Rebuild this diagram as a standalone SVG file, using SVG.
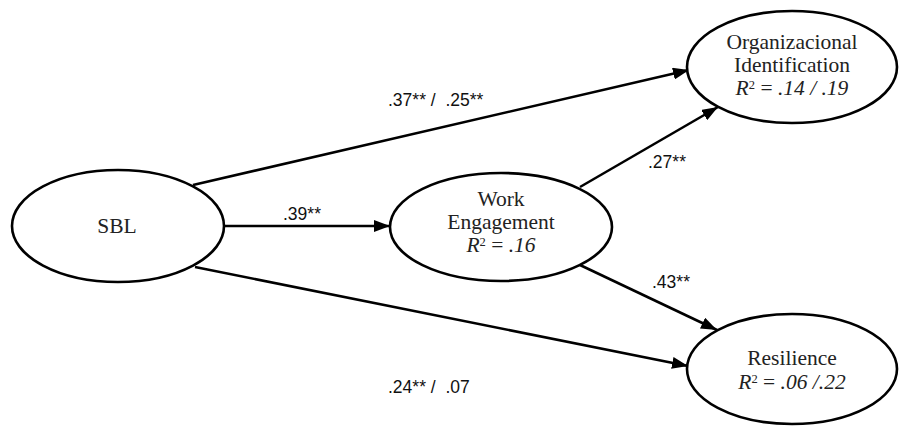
<svg xmlns="http://www.w3.org/2000/svg" width="899" height="426" viewBox="0 0 899 426">
<defs>
<style>
.node{fill:#fff;stroke:#000;stroke-width:2.6}
.nt{font-family:"Liberation Serif","Times New Roman",serif;font-size:21.5px;fill:#222;text-anchor:middle}
.it{font-style:italic}
.sup{font-size:12.5px}
.lbl{font-family:"Liberation Sans",Arial,sans-serif;font-size:17.5px;fill:#111}
.edge{stroke:#000;stroke-width:2.6;fill:none;marker-end:url(#ah)}
</style>
<marker id="ah" markerUnits="userSpaceOnUse" markerWidth="16" markerHeight="12" viewBox="0 0 16 12" refX="16" refY="6" orient="auto">
<path d="M0,0 L16,6 L0,12 Z" fill="#000"/>
</marker>
</defs>
<rect width="899" height="426" fill="#fff"/>
<g id="connectors">
<line class="edge" x1="193" y1="185" x2="689" y2="70"/>
<line class="edge" x1="224" y1="226" x2="390" y2="226"/>
<line class="edge" x1="195" y1="267" x2="688" y2="366"/>
<line class="edge" x1="580" y1="187" x2="718" y2="107"/>
<line class="edge" x1="580" y1="265" x2="717" y2="330"/>
</g>
<g id="labels">
<text class="lbl" x="388" y="106" xml:space="preserve">.37** /  .25**</text>
<text class="lbl" x="283" y="220">.39**</text>
<text class="lbl" x="648" y="168">.27**</text>
<text class="lbl" x="652" y="288">.43**</text>
<text class="lbl" x="388" y="393" xml:space="preserve">.24** /  .07</text>
</g>
<g id="SBL">
<ellipse class="node" cx="118" cy="226" rx="106" ry="56"/>
<text class="nt" x="117" y="233">SBL</text>
</g>
<g id="WorkEngagement">
<ellipse class="node" cx="501" cy="227" rx="111" ry="54"/>
<text class="nt" x="501" y="206">Work</text>
<text class="nt" x="501" y="229">Engagement</text>
<text class="nt" x="501" y="252"><tspan class="it">R</tspan><tspan class="sup" dy="-6">2</tspan><tspan dy="6"> = </tspan><tspan class="it">.16</tspan></text>
</g>
<g id="OrgIdentification">
<ellipse class="node" cx="792" cy="67" rx="105" ry="56"/>
<text class="nt" x="792" y="49">Organizacional</text>
<text class="nt" x="792" y="72">Identification</text>
<text class="nt" x="792" y="95"><tspan class="it">R</tspan><tspan class="sup" dy="-6">2</tspan><tspan dy="6"> = </tspan><tspan class="it">.14 / .19</tspan></text>
</g>
<g id="Resilience">
<ellipse class="node" cx="792" cy="369" rx="105" ry="55"/>
<text class="nt" x="792" y="365">Resilience</text>
<text class="nt" x="792" y="389"><tspan class="it">R</tspan><tspan class="sup" dy="-6">2</tspan><tspan dy="6"> = </tspan><tspan class="it">.06 /.22</tspan></text>
</g>
</svg>
